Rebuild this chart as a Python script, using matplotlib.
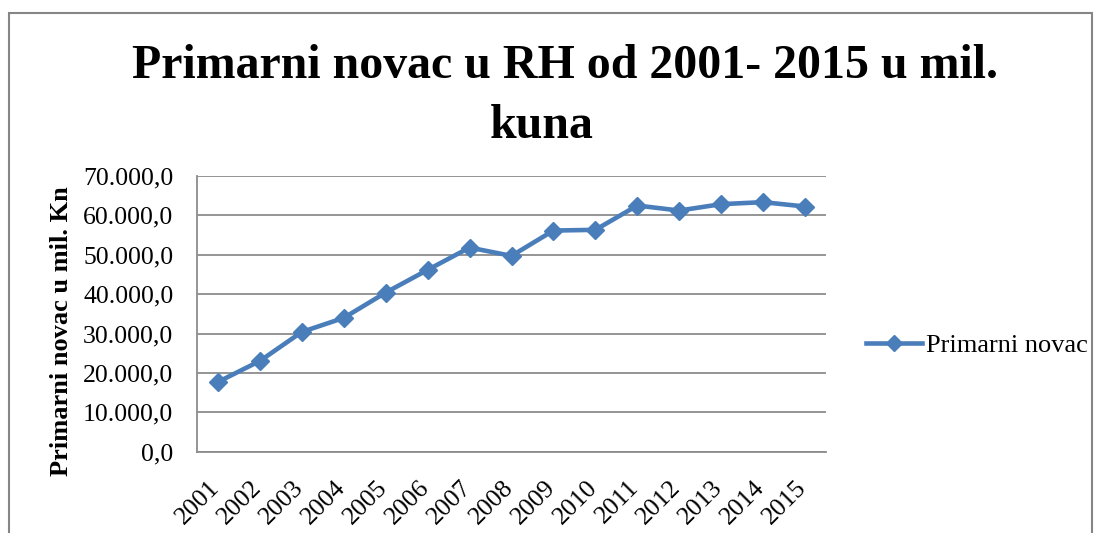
import matplotlib.pyplot as plt
from matplotlib.patches import Rectangle
from matplotlib.ticker import FuncFormatter
from matplotlib.transforms import ScaledTranslation

years = ["2001", "2002", "2003", "2004", "2005", "2006", "2007", "2008",
         "2009", "2010", "2011", "2012", "2013", "2014", "2015"]
primarni_novac = [17710, 23040, 30410, 33970, 40400, 46160, 51830, 49720,
                  56150, 56330, 62500, 61230, 62850, 63360, 62250]

plt.rcParams['font.family'] = ['Liberation Serif', 'DejaVu Serif']
W, H = 1102, 533


def fmt(v, pos):
    # croatian number format: 70.000,0
    s = f"{v:,.1f}"
    return s.replace(",", "X").replace(".", ",").replace("X", ".")


fig = plt.figure(figsize=(W / 100, H / 100), dpi=100)
ax = fig.add_axes([197 / W, 1 - 451.7 / H, 629 / W, 275.7 / H])

x = range(len(years))
ax.plot(x, primarni_novac, color="#4A7EBB", lw=3.3, marker="D", ms=9.5,
        mew=1, label="Primarni novac")

ax.set_xlim(-0.5, len(years) - 0.5)
ax.set_ylim(0, 70000)
ax.set_yticks(range(0, 70001, 10000))
ax.yaxis.set_major_formatter(FuncFormatter(fmt))
ax.set_xticks(list(x))
ax.set_xticklabels(years, rotation=45, ha="right", va="top")
ax.tick_params(axis="both", length=0, labelsize=18.5)
ax.tick_params(axis="y", pad=17)
ax.tick_params(axis="x", pad=18)
shift = ScaledTranslation(6 / 100, 0, fig.dpi_scale_trans)
for lab in ax.get_xticklabels():
    lab.set_transform(lab.get_transform() + shift)

ax.grid(axis="y", color="#8C8C8C", lw=1.3)
ax.set_axisbelow(True)
for s in ["top", "right"]:
    ax.spines[s].set_visible(False)
for s in ["left", "bottom"]:
    ax.spines[s].set_color("#8C8C8C")
    ax.spines[s].set_linewidth(1.3)

ax.set_ylabel("Primarni novac u mil. Kn", fontsize=19, fontweight="bold")
ax.yaxis.set_label_coords((73 - 197) / 629, 0.438)

fig.text(565 / W, 1 - 77.7 / H, "Primarni novac u RH od 2001- 2015 u mil.",
         ha="center", va="baseline", fontsize=34.5, fontweight="bold")
fig.text(542 / W, 1 - 138.5 / H, "kuna",
         ha="center", va="baseline", fontsize=34.5, fontweight="bold")

ax.legend(loc="center left", bbox_to_anchor=(866 / W, 1 - 345 / H),
          bbox_transform=fig.transFigure, frameon=False, fontsize=19,
          borderpad=0, borderaxespad=0, handlelength=2.12,
          handletextpad=0.16, markerscale=0.85)

fig.patches.append(Rectangle((9 / W, -0.05), 1083 / W, 1.05 - 13 / H,
                             transform=fig.transFigure, fill=False,
                             edgecolor="#868686", lw=1.5))

fig.savefig("out.png", dpi=100)
